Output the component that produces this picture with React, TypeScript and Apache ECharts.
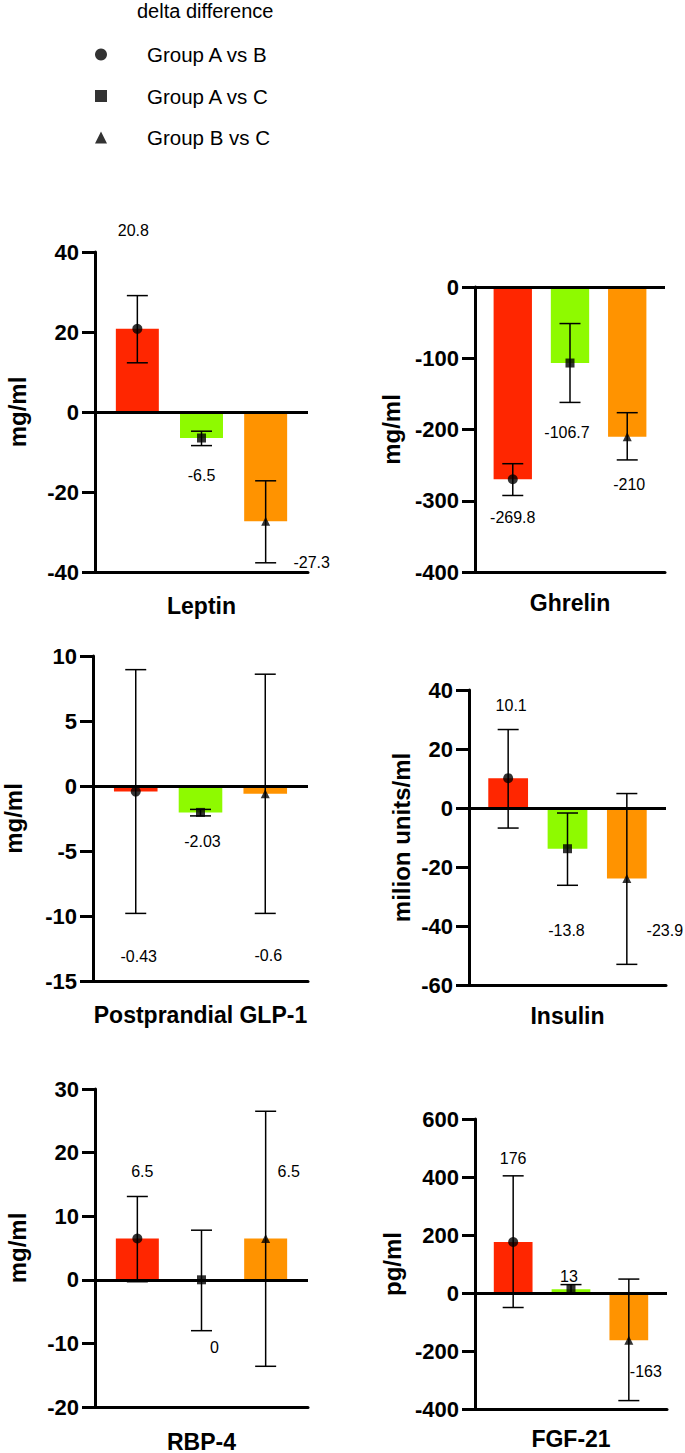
import React, { useEffect, useRef } from "react";
import * as echarts from "echarts";

// ---------- data ----------
const groups = ["Group A vs B", "Group A vs C", "Group B vs C"];
const markerSymbols = ["circle", "rect", "triangle"];
const barColors = ["#FF2600", "#8EFA00", "#FF9300"];

const panelNames = ["Leptin", "Ghrelin", "Postprandial GLP-1", "Insulin", "RBP-4", "FGF-21"];
const panelUnits = ["mg/ml", "mg/ml", "mg/ml", "milion units/ml", "mg/ml", "pg/ml"];

const leptinMean = [20.8, -6.5, -27.3];
const leptinLow = [12.3, -8.4, -37.7];
const leptinHigh = [29.1, -4.8, -17.2];

const ghrelinMean = [-269.8, -106.7, -210];
const ghrelinLow = [-292.6, -162, -242.7];
const ghrelinHigh = [-248, -51.3, -176.4];

const glpMean = [-0.43, -2.03, -0.6];
const glpLow = [-9.8, -2.3, -9.8];
const glpHigh = [8.95, -1.8, 8.6];

const insulinMean = [10.1, -13.8, -23.9];
const insulinLow = [-6.8, -26.2, -53];
const insulinHigh = [26.6, -1.7, 4.9];

const rbpMean = [6.5, 0, 6.5];
const rbpLow = [-0.3, -8, -13.6];
const rbpHigh = [13.1, 7.8, 26.5];

const fgfMean = [176, 13, -163];
const fgfLow = [-50, -3, -371];
const fgfHigh = [404, 29, 48];

// y axis ticks: [min, max, interval]
const leptinTicks = [-40, 40, 20];
const ghrelinTicks = [-400, 0, 100];
const glpTicks = [-15, 10, 5];
const insulinTicks = [-60, 40, 20];
const rbpTicks = [-20, 30, 10];
const fgfTicks = [-400, 600, 200];

// ---------- layout (pixels) ----------
const FONT = "'Liberation Sans', Arial, Helvetica, sans-serif";
const panelBoxes = [
  [95, 252, 213, 320],
  [475, 287, 190, 285],
  [92, 656, 216, 325],
  [469, 690, 197, 295],
  [95, 1089, 213, 320],
  [475, 1119, 192, 290],
];
const yNameGaps = [66, 72, 68, 56, 66, 71];
const xLabelMargins = [22, 19, 22, 19, 23, 18];
// value-label offsets from marker point [dx, dy]
const labelOffsets = [
  [[-4, -98], [0, 37], [46, 41]],
  [[0, 38], [-3, 69], [2, 48]],
  [[3, 165], [2, 29], [3, 162]],
  [[3, -73], [-1, 82], [38, 52]],
  [[5, -67], [13, 68], [23, -67]],
  [[0, -83], [-2, -13], [17, 31]],
];
const markerSizes = [10, 9, 9];
const SIDE = 0.66;

const means = [leptinMean, ghrelinMean, glpMean, insulinMean, rbpMean, fgfMean];
const lows = [leptinLow, ghrelinLow, glpLow, insulinLow, rbpLow, fgfLow];
const highs = [leptinHigh, ghrelinHigh, glpHigh, insulinHigh, rbpHigh, fgfHigh];
const ticks = [leptinTicks, ghrelinTicks, glpTicks, insulinTicks, rbpTicks, fgfTicks];

function buildOption() {
  const grid: any[] = [];
  const xAxis: any[] = [];
  const yAxis: any[] = [];
  const series: any[] = [];

  panelNames.forEach((name, i) => {
    const [left, top, width, height] = panelBoxes[i];
    grid.push({ left, top, width, height, containLabel: false });
    xAxis.push({
      gridIndex: i,
      type: "category",
      data: [name],
      position: "bottom",
      axisLine: { onZero: false, lineStyle: { color: "#000", width: 3 } },
      axisTick: { alignWithLabel: true, length: 14, lineStyle: { color: "#000", width: 3 } },
      axisLabel: { fontSize: 23, fontWeight: "bold", color: "#000", margin: xLabelMargins[i], fontFamily: FONT },
      splitLine: { show: false },
    });
    xAxis.push({
      gridIndex: i,
      type: "value",
      min: -SIDE,
      max: 2 + SIDE,
      show: false,
      axisLine: { onZero: false },
      splitLine: { show: false },
    });
    const [mn, mx, iv] = ticks[i];
    yAxis.push({
      gridIndex: i,
      type: "value",
      min: mn,
      max: mx,
      interval: iv,
      name: panelUnits[i],
      nameLocation: "middle",
      nameGap: yNameGaps[i],
      nameRotate: 90,
      nameTextStyle: { fontSize: 24, fontWeight: "bold", color: "#000", fontFamily: FONT },
      axisLine: { show: true, onZero: false, lineStyle: { color: "#000", width: 3 } },
      axisTick: { show: true, length: 13, lineStyle: { color: "#000", width: 3 } },
      axisLabel: { fontSize: 22, fontWeight: "bold", color: "#000", margin: 16, fontFamily: FONT },
      splitLine: { show: false },
    });

    const xIdx = 2 * i + 1;
    const barWidth = (width / (2 + 2 * SIDE)) * 0.67;
    const m = means[i];

    series.push({
      type: "bar",
      xAxisIndex: xIdx,
      yAxisIndex: i,
      barWidth,
      z: 2,
      data: m.map((v, j) => ({ value: [j, v], itemStyle: { color: barColors[j] } })),
      markLine: {
        silent: true,
        symbol: "none",
        z: 4,
        label: { show: false },
        lineStyle: { color: "#000", width: 3, type: "solid" },
        data: [{ yAxis: 0 }],
      },
    });

    series.push({
      type: "custom",
      xAxisIndex: xIdx,
      yAxisIndex: i,
      z: 5,
      clip: false,
      encode: { x: 0, y: [1, 2] },
      data: m.map((_, j) => [j, lows[i][j], highs[i][j]]),
      renderItem: (params: any, api: any) => {
        const x = api.value(0);
        const top = api.coord([x, api.value(2)]);
        const bot = api.coord([x, api.value(1)]);
        const hw = 10.5;
        const style = { stroke: "#000", lineWidth: 1.5 };
        return {
          type: "group",
          children: [
            { type: "line", shape: { x1: top[0], y1: top[1], x2: bot[0], y2: bot[1] }, style },
            { type: "line", shape: { x1: top[0] - hw, y1: top[1], x2: top[0] + hw, y2: top[1] }, style },
            { type: "line", shape: { x1: bot[0] - hw, y1: bot[1], x2: bot[0] + hw, y2: bot[1] }, style },
          ],
        };
      },
    });

    series.push({
      type: "scatter",
      xAxisIndex: xIdx,
      yAxisIndex: i,
      z: 6,
      clip: false,
      itemStyle: { color: "#000" },
      data: m.map((v, j) => ({ value: [j, v], symbol: markerSymbols[j], symbolSize: markerSizes[j] })),
    });

    series.push({
      type: "custom",
      xAxisIndex: xIdx,
      yAxisIndex: i,
      z: 7,
      clip: false,
      encode: { x: 0, y: 1 },
      data: m.map((v, j) => [j, v]),
      renderItem: (params: any, api: any) => {
        const j = params.dataIndex;
        const p = api.coord([api.value(0), api.value(1)]);
        const off = labelOffsets[i][j];
        return {
          type: "text",
          x: p[0] + off[0],
          y: p[1] + off[1],
          style: {
            text: String(m[j]),
            fill: "#000",
            fontSize: 16,
            fontFamily: FONT,
            align: "center",
            verticalAlign: "middle",
          },
        };
      },
    });
  });

  groups.forEach((g, j) => {
    series.push({
      type: "scatter",
      name: g,
      xAxisIndex: 1,
      yAxisIndex: 0,
      symbol: markerSymbols[j],
      symbolKeepAspect: true,
      itemStyle: { color: "#000" },
      data: [],
    });
  });

  return {
    animation: false,
    backgroundColor: "#fff",
    title: {
      text: "delta difference",
      left: 137,
      top: 1,
      padding: 0,
      textStyle: { fontSize: 20, fontWeight: "normal", color: "#000", fontFamily: FONT },
    },
    legend: {
      orient: "vertical",
      left: 95,
      top: 44,
      padding: 0,
      itemWidth: 12,
      itemHeight: 12,
      itemGap: 20.5,
      symbolKeepAspect: true,
      selectedMode: false,
      textStyle: { fontSize: 20.5, color: "#000", fontFamily: FONT, padding: [0, 0, 0, 35] },
      data: groups.map((g, j) => ({ name: g, icon: markerSymbols[j] })),
    },
    grid,
    xAxis,
    yAxis,
    series,
  };
}

export default function App() {
  const ref = useRef<HTMLDivElement>(null);
  useEffect(() => {
    if (!ref.current) return;
    const chart = echarts.init(ref.current, null, { renderer: "svg" });
    chart.setOption(buildOption() as any);
    return () => chart.dispose();
  }, []);
  return (
    <div
      ref={ref}
      style={{ position: "absolute", left: 0, top: 0, width: 685, height: 1453, background: "#fff" }}
    />
  );
}
